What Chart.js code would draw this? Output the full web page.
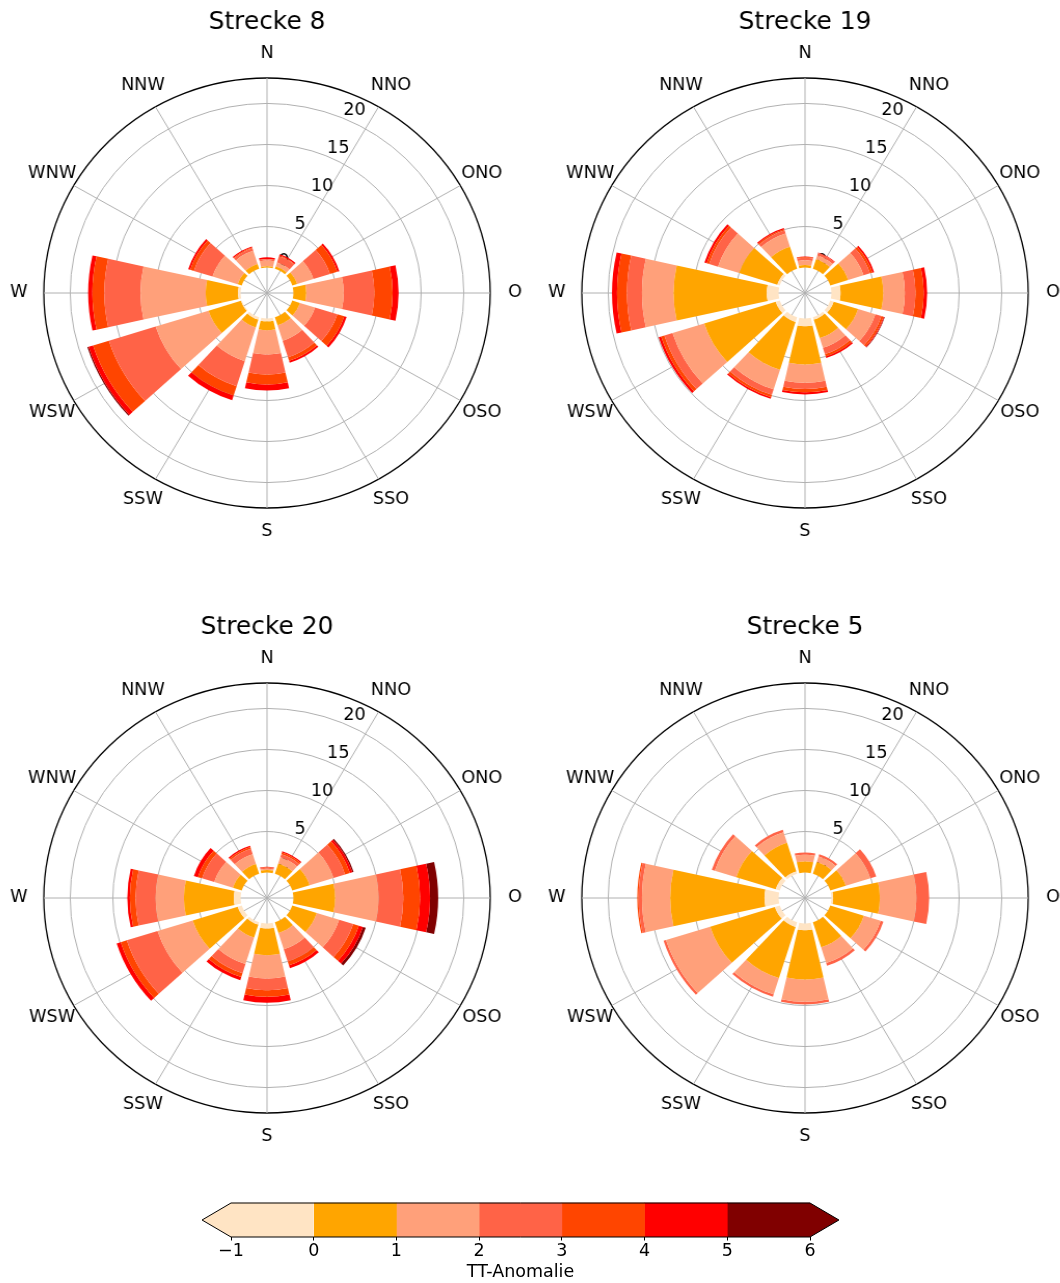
<!DOCTYPE html>
<html>
<head>
<meta charset="utf-8">
<script src="https://cdn.jsdelivr.net/npm/chart.js@4/dist/chart.umd.min.js"></script>
<style>
html, body { margin: 0; padding: 0; background: #fff; overflow: hidden; }
body { width: 1060px; height: 1283px; position: relative; }
.rose { position: absolute; transform: scaleX(1.038); }
#colorbar { position: absolute; left: 180px; top: 1159px; }
</style>
</head>
<body>
<canvas id="rose8" class="rose" width="510" height="560" style="left:12px; top:0px"></canvas>
<canvas id="rose19" class="rose" width="510" height="560" style="left:550px; top:0px"></canvas>
<canvas id="rose20" class="rose" width="510" height="560" style="left:12px; top:605px"></canvas>
<canvas id="rose5" class="rose" width="510" height="560" style="left:550px; top:605px"></canvas>
<canvas id="colorbar" width="700" height="124"></canvas>
<script>
const FONT = '"DejaVu Sans", sans-serif';

// sectors and colour classes
const directions = ['N', 'NNO', 'ONO', 'O', 'OSO', 'SSO', 'S', 'SSW', 'WSW', 'W', 'WNW', 'NNW'];
const binEdges = [-1, 0, 1, 2, 3, 4, 5, 6];
const binColors = ['#ffe4c4', '#ffa500', '#ffa07a', '#ff6347', '#ff4500', '#ff0000', '#800000'];
const rTicks = [0, 5, 10, 15, 20];
const rMin = -3.1;
const rMax = 23.1;

// frequency (%) per sector, one row per TT-Anomalie class (-1..0, 0..1, ..., 5..6)
const strecke8 = [
  [0, 0, 0, 0, 0, 0, 0.35, 0.3, 0.1, 0.3, 0, 0],
  [0.15, 0.3, 0.6, 1.5, 0.95, 1.03, 1.09, 1.0, 4.0, 3.8, 0.5, 0.6],
  [0.7, 0.5, 2.0, 4.4, 1.85, 1.97, 2.96, 4.3, 6.5, 7.65, 3.1, 1.7],
  [0.15, 0.8, 2.05, 3.6, 2.75, 2.1, 2.43, 3.2, 5.75, 4.25, 2.3, 0.3],
  [0.05, 0.1, 0.9, 2.15, 0.85, 0.45, 1.22, 1.2, 1.95, 1.4, 0.45, 0.1],
  [0.2, 0.15, 0.25, 0.7, 0.3, 0.25, 0.73, 0.6, 0.55, 0.5, 0.25, 0.15],
  [0, 0, 0, 0, 0, 0, 0, 0, 0.15, 0, 0, 0]
];
const strecke19 = [
  [0, 0, 0, 1.07, 0.42, 0.3, 0.95, 0.6, 0.5, 1.39, 0.3, 0],
  [0.3, 1.2, 2.2, 5.01, 3.01, 2.36, 4.65, 6.1, 8.8, 10.94, 4.7, 2.8],
  [0.6, 0.5, 1.9, 2.54, 2.12, 1.24, 2.25, 2.5, 3.9, 3.71, 2.6, 1.7],
  [0.3, 0.3, 0.8, 1.25, 0.75, 0.8, 0.75, 0.7, 1.0, 1.76, 1.1, 0.4],
  [0.1, 0, 0.3, 0.97, 0.25, 0.3, 0.4, 0.3, 0.4, 1.17, 0.3, 0.15],
  [0.06, 0.08, 0.2, 0.4, 0.1, 0.2, 0.27, 0.2, 0.3, 0.59, 0.28, 0.15],
  [0, 0, 0, 0, 0.07, 0, 0, 0, 0, 0, 0, 0]
];
const strecke20 = [
  [0, 0, 0, 0, 0, 0, 0.63, 0.3, 0.5, 0.8, 0, 0],
  [0.3, 1.3, 2.14, 4.9, 3.02, 1.38, 3.24, 1.66, 5.54, 5.86, 1.09, 1.24],
  [0.15, 0.8, 2.94, 5.1, 2.75, 2.07, 2.84, 3.38, 4.33, 3.32, 2.3, 1.26],
  [0.15, 0.4, 1.42, 2.9, 1.73, 1.55, 1.42, 1.16, 3.78, 2.35, 1.51, 0.7],
  [0.05, 0.2, 0.6, 1.97, 0.7, 0.5, 0.81, 0.5, 0.75, 0.67, 0.5, 0.2],
  [0.05, 0.16, 0.3, 1.17, 0.5, 0.38, 0.73, 0.4, 0.5, 0.3, 0.5, 0.18],
  [0, 0, 0.15, 0.96, 0.35, 0, 0, 0, 0, 0, 0, 0]
];
const strecke5 = [
  [0, 0, 0, 0.2, 0, 0, 0.83, 0.6, 0.6, 1.66, 0.5, 0.3],
  [1.36, 1.5, 1.91, 5.49, 4.14, 3.2, 6.0, 6.52, 7.97, 11.06, 4.86, 3.65],
  [0.81, 0.7, 3.04, 4.29, 2.06, 2.0, 2.72, 2.08, 5.43, 3.32, 2.64, 1.35],
  [0.28, 0.28, 0.71, 1.5, 0.34, 0.34, 0.32, 0.3, 0.3, 0.4, 0.37, 0.31],
  [0, 0, 0, 0, 0, 0, 0, 0, 0, 0.15, 0, 0],
  [0, 0, 0, 0, 0, 0, 0, 0, 0, 0, 0, 0],
  [0, 0, 0, 0, 0, 0, 0, 0, 0, 0, 0, 0]
];

const opening = 0.84;     // share of each sector covered by the bar
const rLabelAngle = 22.5; // radial tick labels sit along this bearing

// polar area controller that stacks the classes and leaves a gap between sectors
class RoseController extends Chart.PolarAreaController {
  updateElements(arcs, start, count, mode) {
    const scale = this._cachedMeta.rScale;
    const ds = this.getDataset();
    const half = Math.PI * opening / arcs.length;
    for (let i = start; i < start + count; i++) {
      const mid = scale.getIndexAngle(i) - Math.PI / 2;
      const lo = ds.stackBase[i];
      this.updateElement(arcs[i], i, {
        x: scale.xCenter,
        y: scale.yCenter,
        innerRadius: scale.getDistanceFromCenterForValue(lo),
        outerRadius: scale.getDistanceFromCenterForValue(lo + ds.data[i]),
        startAngle: mid - half,
        endAngle: mid + half,
        options: this.resolveDataElementOptions(i, mode)
      }, mode);
    }
  }
}
RoseController.id = 'rose';
Chart.register(RoseController);

// radial tick labels (under the bars) and compass labels
const roseLabels = {
  id: 'roseLabels',
  beforeDatasetsDraw(chart) {
    const s = chart.scales.r;
    const ctx = chart.ctx;
    const a = (rLabelAngle - 90) * Math.PI / 180;
    ctx.save();
    ctx.fillStyle = '#000';
    ctx.font = '17px ' + FONT;
    ctx.textAlign = 'left';
    ctx.textBaseline = 'alphabetic';
    rTicks.forEach(v => {
      const r = s.getDistanceFromCenterForValue(v);
      ctx.fillText(String(v), s.xCenter + Math.cos(a) * r + 1, s.yCenter + Math.sin(a) * r - 3);
    });
    ctx.restore();
  },
  afterDatasetsDraw(chart) {
    const s = chart.scales.r;
    const ctx = chart.ctx;
    ctx.save();
    ctx.fillStyle = '#000';
    ctx.font = '17px ' + FONT;
    ctx.textAlign = 'center';
    ctx.textBaseline = 'middle';
    directions.forEach((d, i) => {
      const p = s.getPointPosition(i, s.drawingArea + 24);
      ctx.fillText(d, p.x, p.y);
    });
    ctx.restore();
  }
};

function makeRose(id, title, rows) {
  const datasets = rows.map((vals, b) => {
    const stackBase = vals.map((v, i) => rows.slice(0, b).reduce((sum, row) => sum + row[i], 0));
    return {
      label: binEdges[b] + ' bis ' + binEdges[b + 1],
      data: vals,
      stackBase: stackBase,
      backgroundColor: binColors[b],
      borderWidth: 0
    };
  });
  new Chart(document.getElementById(id), {
    type: 'rose',
    data: { labels: directions, datasets: datasets },
    options: {
      responsive: false,
      animation: false,
      layout: { padding: { left: 40, right: 40, top: 0, bottom: 52 } },
      plugins: {
        legend: { display: false },
        tooltip: { enabled: false },
        title: {
          display: true,
          text: title,
          color: '#000',
          font: { family: FONT, size: 24, weight: 'normal' },
          padding: { top: 8, bottom: 41.2 }
        }
      },
      scales: {
        r: {
          type: 'radialLinear',
          min: rMin,
          max: rMax,
          startAngle: 0,
          afterBuildTicks: s => { s.ticks = rTicks.filter(v => v > 0).concat([rMax]).map(v => ({ value: v })); },
          ticks: { display: false },
          grid: {
            circular: true,
            color: c => c.tick && c.tick.value === rMax ? '#000' : '#b0b0b0',
            lineWidth: c => c.tick && c.tick.value === rMax ? 1.3 : 1
          },
          angleLines: { display: true, color: '#b0b0b0', lineWidth: 1 },
          pointLabels: { display: false }
        }
      }
    },
    plugins: [roseLabels]
  });
}

makeRose('rose8', 'Strecke 8', strecke8);
makeRose('rose19', 'Strecke 19', strecke19);
makeRose('rose20', 'Strecke 20', strecke20);
makeRose('rose5', 'Strecke 5', strecke5);

// colour bar with triangular extensions
const extendFrac = 0.35;
const cbExtend = {
  id: 'cbExtend',
  afterDatasetsDraw(chart) {
    const x = chart.scales.x;
    const y = chart.scales.y;
    const bar = chart.getDatasetMeta(0).data[1];
    const top = bar.y - bar.height / 2;
    const bottom = bar.y + bar.height / 2;
    const mid = bar.y;
    const x0 = x.getPixelForValue(binEdges[0]);
    const x1 = x.getPixelForValue(binEdges[binEdges.length - 1]);
    const tipL = x.getPixelForValue(binEdges[0] - extendFrac);
    const tipR = x.getPixelForValue(binEdges[binEdges.length - 1] + extendFrac);
    const ctx = chart.ctx;
    ctx.save();
    ctx.fillStyle = binColors[0];
    ctx.beginPath(); ctx.moveTo(x0, top); ctx.lineTo(tipL, mid); ctx.lineTo(x0, bottom); ctx.closePath(); ctx.fill();
    ctx.fillStyle = binColors[binColors.length - 1];
    ctx.beginPath(); ctx.moveTo(x1, top); ctx.lineTo(tipR, mid); ctx.lineTo(x1, bottom); ctx.closePath(); ctx.fill();
    ctx.strokeStyle = '#000';
    ctx.lineWidth = 1;
    ctx.beginPath();
    ctx.moveTo(tipL, mid); ctx.lineTo(x0, top); ctx.lineTo(x1, top); ctx.lineTo(tipR, mid);
    ctx.lineTo(x1, bottom); ctx.lineTo(x0, bottom); ctx.closePath();
    ctx.stroke();
    ctx.restore();
  }
};

// two rows on the index axis: an empty one above, the colour bar below
new Chart(document.getElementById('colorbar'), {
  type: 'bar',
  data: {
    labels: ['', 'TT-Anomalie'],
    datasets: binColors.map((c, b) => ({
      data: [null, [binEdges[b], binEdges[b + 1]]],
      backgroundColor: c,
      borderWidth: 0,
      grouped: false,
      barPercentage: 1,
      categoryPercentage: 1
    }))
  },
  options: {
    indexAxis: 'y',
    responsive: false,
    animation: false,
    layout: { padding: { left: 51, right: 70, top: 10, bottom: 0 } },
    plugins: { legend: { display: false }, tooltip: { enabled: false } },
    scales: {
      x: {
        type: 'linear',
        min: binEdges[0],
        max: binEdges[binEdges.length - 1],
        ticks: {
          stepSize: 1,
          padding: 0,
          color: '#000',
          font: { family: FONT, size: 17.5 },
          callback: v => v < 0 ? '\u2212' + Math.abs(v) : String(v)
        },
        grid: { drawOnChartArea: false, drawTicks: true, tickLength: 3.5, color: '#000', lineWidth: 1 },
        border: { display: false },
        title: {
          display: true,
          text: 'TT-Anomalie',
          color: '#000',
          font: { family: FONT, size: 17.5 },
          padding: { top: 0.5, bottom: 0 }
        }
      },
      y: { display: false }
    }
  },
  plugins: [cbExtend]
});
</script>
</body>
</html>
